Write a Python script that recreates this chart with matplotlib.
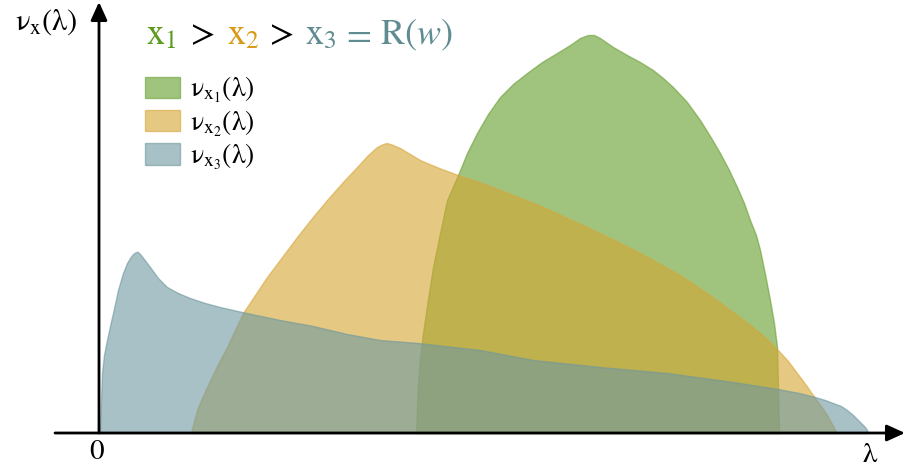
import numpy as np
import matplotlib
matplotlib.use("Agg")
import matplotlib.pyplot as plt

plt.rcParams['mathtext.fontset'] = 'stix'
plt.rcParams['font.family'] = ['STIXGeneral', 'DejaVu Serif']

# spectral densities, lambda vs nu
lam1 = [3.17, 3.18, 3.19, 3.21, 3.24, 3.29, 3.34, 3.41, 3.48, 3.59, 3.68, 3.78, 3.89,
        4.01, 4.14, 4.28, 4.43, 4.58, 4.71, 4.81, 4.89, 4.95, 5.01, 5.14, 5.28, 5.41,
        5.54, 5.64, 5.74, 5.88, 6.01, 6.11, 6.21, 6.30, 6.38, 6.45, 6.51, 6.57,
        6.61, 6.66, 6.71, 6.75, 6.78, 6.79, 6.80]
nu1 = [0.0, 0.25, 0.50, 0.75, 1.00, 1.34, 1.66, 2.00, 2.33, 2.58, 2.80, 3.00, 3.19,
       3.36, 3.49, 3.60, 3.71, 3.80, 3.88, 3.95, 3.98, 3.98, 3.95, 3.86, 3.78, 3.71,
       3.63, 3.55, 3.46, 3.31, 3.13, 2.97, 2.80, 2.63, 2.46, 2.30, 2.13, 1.98,
       1.83, 1.59, 1.33, 1.10, 0.86, 0.46, 0.0]

lam2 = [0.92, 0.95, 0.98, 1.03, 1.08, 1.18, 1.28, 1.36, 1.44, 1.56, 1.68, 1.83, 1.98,
        2.13, 2.28, 2.43, 2.58, 2.69, 2.78, 2.84, 2.88, 2.94, 3.01, 3.11, 3.21,
        3.40, 3.59, 3.80, 4.01, 4.22, 4.44, 4.66, 4.88, 5.15, 5.41, 5.63, 5.84,
        6.08, 6.31, 6.46, 6.61, 6.70, 6.79, 6.89, 6.98, 7.07, 7.16, 7.22, 7.28,
        7.33, 7.38]
nu2 = [0.0, 0.12, 0.23, 0.35, 0.46, 0.67, 0.86, 1.03, 1.20, 1.38, 1.56, 1.76, 1.96,
       2.15, 2.33, 2.50, 2.66, 2.78, 2.86, 2.89, 2.90, 2.88, 2.85, 2.79, 2.73,
       2.65, 2.58, 2.51, 2.43, 2.35, 2.26, 2.16, 2.06, 1.93, 1.80, 1.68, 1.56,
       1.40, 1.23, 1.12, 1.00, 0.92, 0.83, 0.72, 0.60, 0.48, 0.35, 0.27, 0.18,
       0.09, 0.0]

lam3 = [0.01, 0.015, 0.02, 0.03, 0.05, 0.08, 0.11, 0.14, 0.19, 0.24, 0.28, 0.31,
        0.34, 0.37, 0.39, 0.41, 0.45, 0.51, 0.59, 0.68, 0.79, 0.91, 1.06, 1.21,
        1.43, 1.62, 1.81, 2.14, 2.48, 2.81, 3.19, 3.81, 4.34, 5.01, 5.68, 6.34,
        6.79, 7.00, 7.16, 7.26, 7.34, 7.42, 7.48, 7.54, 7.59, 7.63, 7.66, 7.68, 7.69]
nu3 = [0.0, 0.18, 0.33, 0.60, 0.78, 0.93, 1.07, 1.20, 1.43, 1.60, 1.70, 1.75,
       1.79, 1.81, 1.81, 1.79, 1.74, 1.66, 1.55, 1.46, 1.40, 1.35, 1.30, 1.26,
       1.21, 1.17, 1.13, 1.07, 0.99, 0.93, 0.90, 0.83, 0.73, 0.66, 0.60, 0.51,
       0.44, 0.40, 0.36, 0.33, 0.30, 0.27, 0.23, 0.18, 0.13, 0.09, 0.06, 0.03, 0.0]

labels = [r'$\mathrm{\nu}_{\mathrm{x}_1}(\mathrm{\lambda})$',
          r'$\mathrm{\nu}_{\mathrm{x}_2}(\mathrm{\lambda})$',
          r'$\mathrm{\nu}_{\mathrm{x}_3}(\mathrm{\lambda})$']
fills = ['#619d26', '#d5a530', '#6e99a0']
edges = ['#6a9f34', '#d9a53a', '#6f979d']
title_cols = ['#5a9a1e', '#d99a18', '#5f8c91']

fig = plt.figure(figsize=(9.05, 4.72), dpi=100)
ax = fig.add_axes([0, 0, 1, 1])
ax.set_xlim(-0.99, 8.06)
ax.set_ylim(-0.39, 4.33)
ax.axis('off')

for lam, nu, fc, ec, lb in zip([lam1, lam2, lam3], [nu1, nu2, nu3], fills, edges, labels):
    ax.fill_between(lam, 0, nu, facecolor=fc, edgecolor=ec, alpha=0.6, lw=1.0, label=lb)

# axes with arrows
arr = dict(arrowstyle='-|>,head_length=1.1,head_width=0.5', color='black', lw=2,
           shrinkA=0, shrinkB=0)
ax.annotate('', xy=(8.06, 0), xytext=(-0.44, 0), arrowprops=arr)
ax.annotate('', xy=(0, 4.31), xytext=(0, 0), arrowprops=arr)

ax.text(-0.02, -0.19, '$0$', fontsize=21, ha='center', va='center')
ax.text(7.71, -0.22, r'$\mathrm{\lambda}$', fontsize=21, ha='center', va='center')
ax.text(-0.53, 4.11, r'$\mathrm{\nu}_\mathrm{x}(\mathrm{\lambda})$', fontsize=22,
        ha='center', va='center')

leg = ax.legend(loc='upper left', bbox_to_anchor=(0.148, 0.864), frameon=False,
                fontsize=20, handlelength=1.26, handleheight=0.8,
                labelspacing=0.11, handletextpad=0.35, borderaxespad=0)

# coloured title pieces, each started at its own x (pixels)
pieces = [r'$\mathrm{x}_1$', r'$>$', r'$\mathrm{x}_2$', r'$>$',
          r'$\mathrm{x}_3$', r'$=$', r'$\mathrm{R}(w)$']
piece_cols = [title_cols[0], 'black', title_cols[1], 'black',
              title_cols[2], title_cols[2], title_cols[2]]
starts = [146, 185, 227, 264, 305, 341, 380]
for s, c, x0 in zip(pieces, piece_cols, starts):
    fig.text(x0 / 905, 1 - 44 / 472, s, fontsize=26, color=c,
             ha='left', va='baseline')

fig.savefig('out.png', dpi=100)
